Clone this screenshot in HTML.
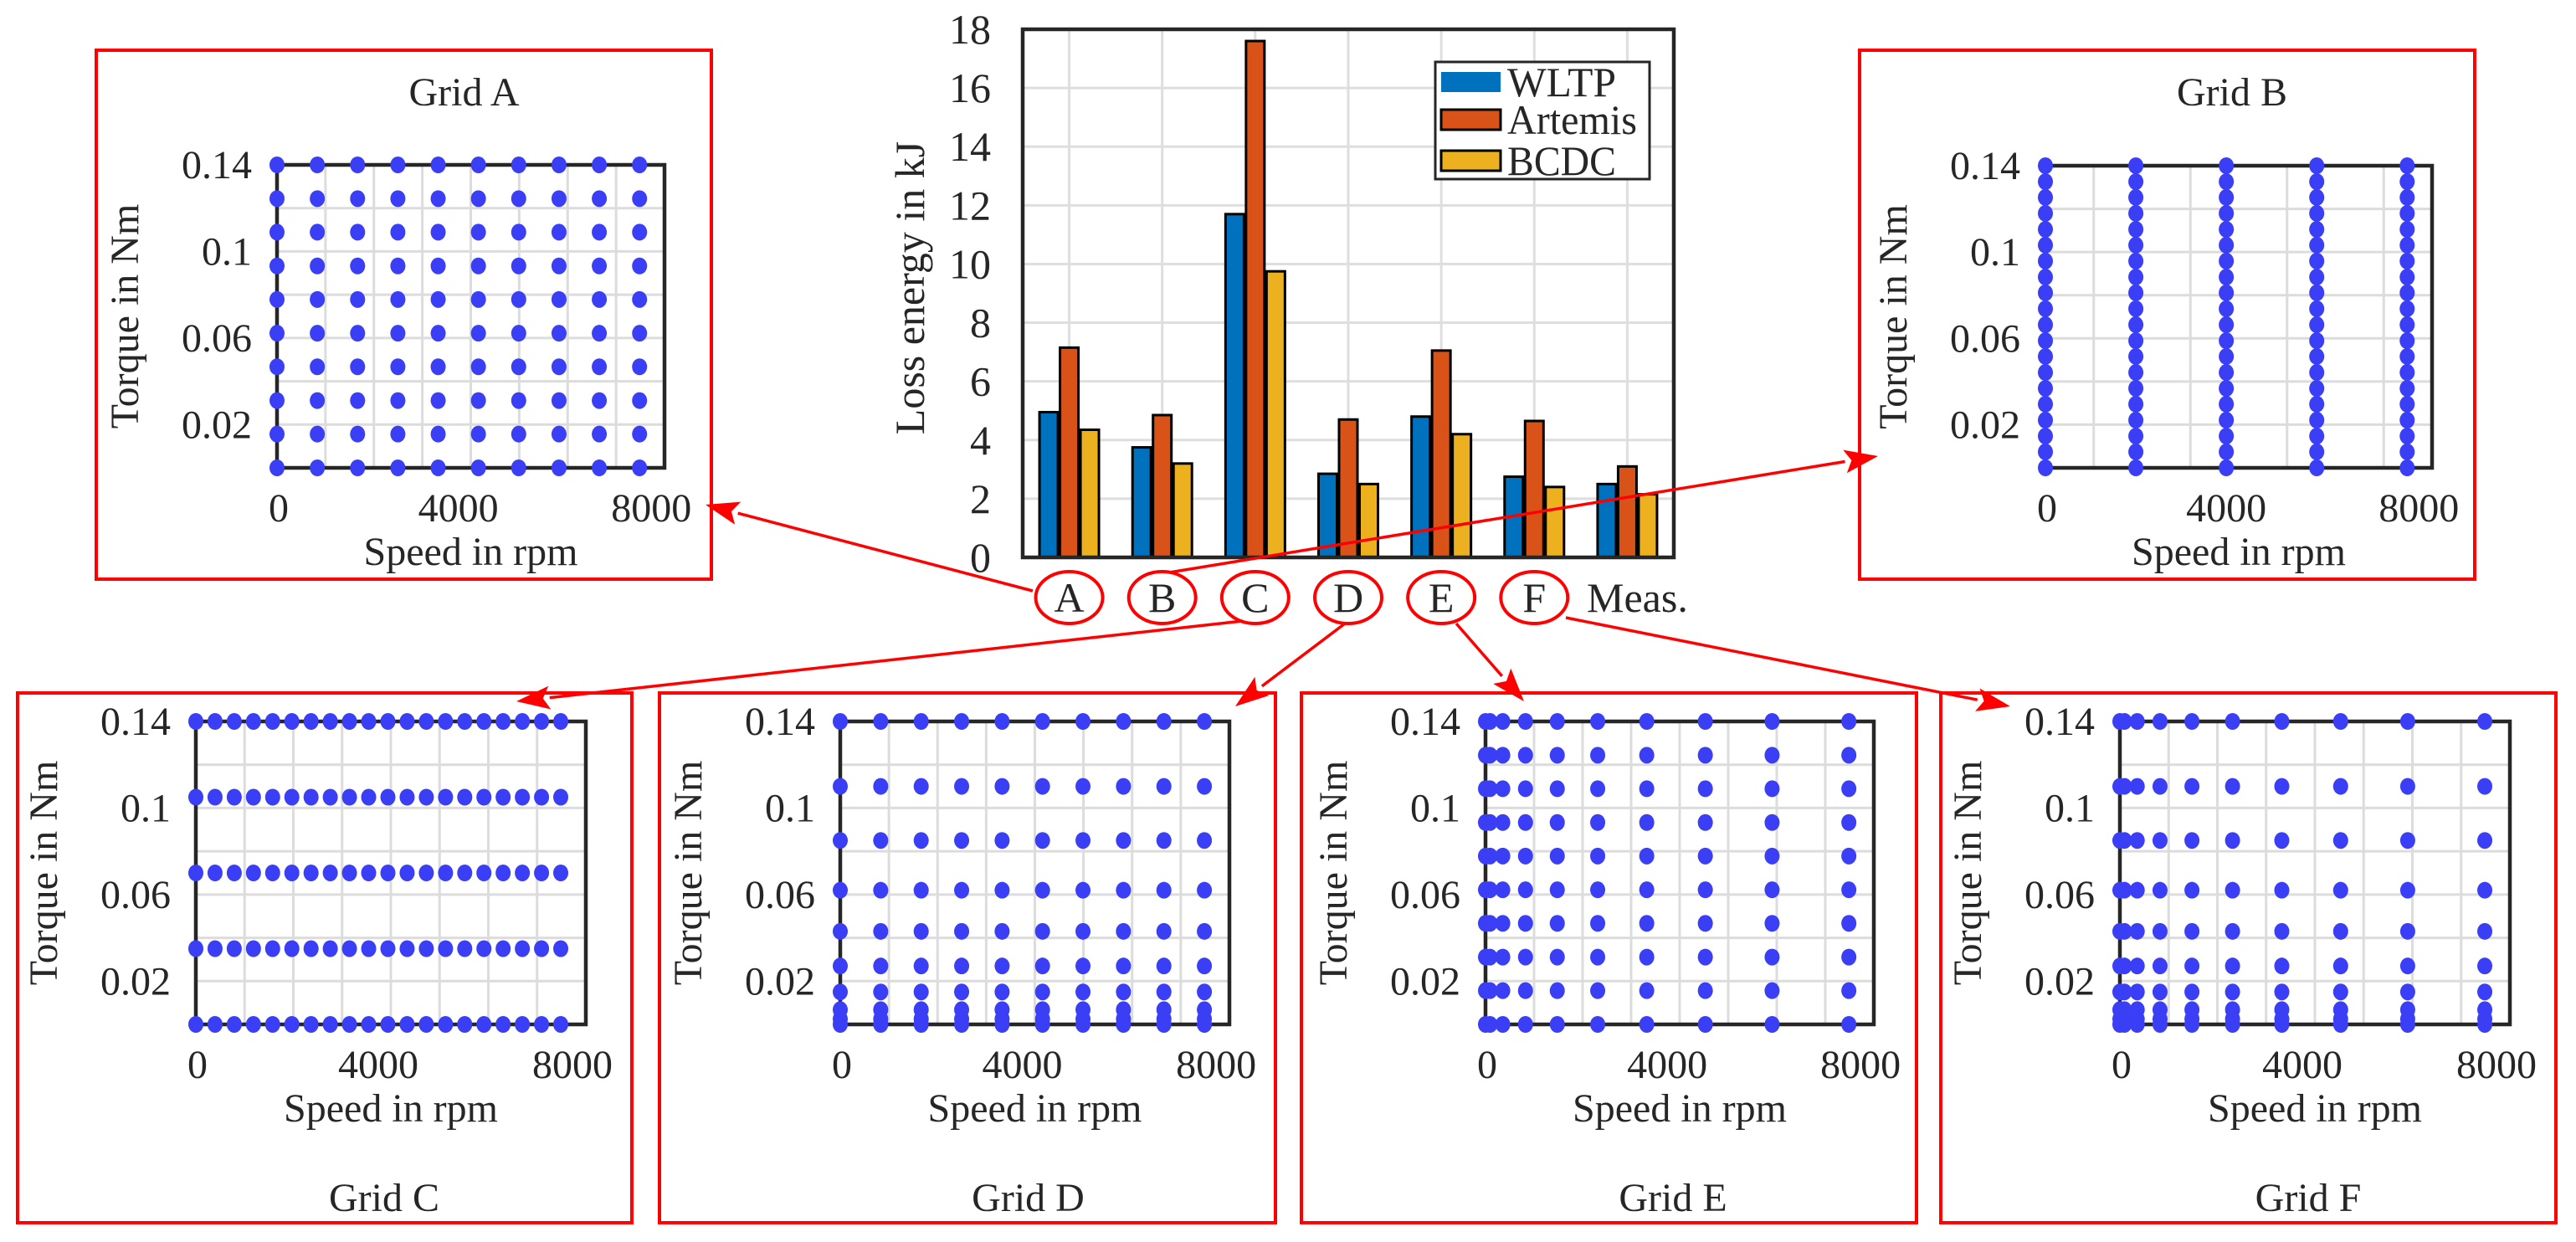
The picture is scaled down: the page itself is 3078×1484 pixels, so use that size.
<!DOCTYPE html>
<html><head><meta charset="utf-8"><style>
html,body{margin:0;padding:0;background:#fff;}
svg{display:block;}
text{font-family:"Liberation Serif","Times New Roman",serif;fill:#262626;}
</style></head><body>
<svg id="fig" width="3078" height="1484" viewBox="0 0 3078 1484" xmlns="http://www.w3.org/2000/svg"></svg>
<script>
// ---- Bar chart data ----
const barCategories = ["A","B","C","D","E","F","Meas."];
const seriesNames = ["WLTP","Artemis","BCDC"];
const wltpValues = [4.95,3.75,11.7,2.85,4.8,2.75,2.5];
const artemisValues = [7.15,4.85,17.6,4.7,7.05,4.65,3.1];
const bcdcValues = [4.35,3.2,9.75,2.5,4.2,2.4,2.15];
const barYTicks = [0,2,4,6,8,10,12,14,16,18];

// ---- Operating grid data ----
const gridASpeed = [0,889,1778,2667,3556,4444,5333,6222,7111,8000];
const gridATorque = [0,0.0156,0.0311,0.0467,0.0622,0.0778,0.0933,0.1089,0.1244,0.14];
const gridBSpeed = [0,2000,4000,6000,8000];
const gridBTorque = [0,0.0074,0.0147,0.0221,0.0295,0.0368,0.0442,0.0516,0.0589,0.0663,0.0737,0.0811,0.0884,0.0958,0.1032,0.1105,0.1179,0.1253,0.1326,0.14];
const gridCSpeed = [0,421,842,1263,1684,2105,2526,2947,3368,3789,4211,4632,5053,5474,5895,6316,6737,7158,7579,8000];
const gridCTorque = [0,0.035,0.07,0.105,0.14];
const gridDSpeed = [0,889,1778,2667,3556,4444,5333,6222,7111,8000];
const gridDTorque = [0,0.0025,0.0068,0.015,0.027,0.043,0.062,0.085,0.11,0.14];
const gridESpeed = [0,100,380,880,1580,2470,3550,4840,6310,8000];
const gridETorque = [0,0.0156,0.0311,0.0467,0.0622,0.0778,0.0933,0.1089,0.1244,0.14];
const gridFSpeed = [0,100,380,880,1580,2470,3550,4840,6310,8000];
const gridFTorque = [0,0.0025,0.0068,0.015,0.027,0.043,0.062,0.085,0.11,0.14];
const gridXTickLabels = [0,4000,8000];
const gridYTickLabels = ["0.02","0.06","0.1","0.14"];
const gridYTickValues = [0.02,0.06,0.1,0.14];

const NS="http://www.w3.org/2000/svg";
const svg=document.getElementById('fig');
const FF='"Liberation Serif","Times New Roman",serif';
function mk(tag,attrs,parent){const e=document.createElementNS(NS,tag);for(const k in attrs)e.setAttribute(k,attrs[k]);(parent||svg).appendChild(e);return e;}
function txt(s,attrs,parent){attrs['font-family']=FF;const e=mk('text',attrs,parent);e.textContent=s;return e;}

// ---------- Bar chart ----------
const bc=mk('g',{});


const BL=1222,BR=2000,BT=35,BB=666,BYMAX=18;
const by=v=>BB-(v/BYMAX)*(BB-BT);
const catW=(BR-BL)/barCategories.length;
const bx=i=>BL+(i+0.5)*catW;
for(const t of barYTicks){ if(t>0&&t<BYMAX){const l=mk('line',{x1:BL,x2:BR,y1:by(t),y2:by(t),stroke:'#dedede','stroke-width':3},bc);

}}
barCategories.forEach((c,i)=>{const l=mk('line',{x1:bx(i),x2:bx(i),y1:BT,y2:BB,stroke:'#dedede','stroke-width':3},bc);

});
const seriesVals=[wltpValues,artemisValues,bcdcValues];
const seriesCols=['#0072BD','#D95319','#EDB120'];
const offs=[-24.5,0,24.5];
seriesVals.forEach((vals,s)=>{vals.forEach((v,i)=>{
 const r=mk('rect',{x:bx(i)+offs[s]-11,y:by(v),width:22,height:BB-by(v),fill:seriesCols[s],stroke:'#000','stroke-width':3},bc);
 
 
});});
const bbox=mk('rect',{x:BL,y:BT,width:BR-BL,height:BB-BT,fill:'none',stroke:'#262626','stroke-width':4.5},bc);


for(const t of barYTicks){const tl=txt(String(t),{x:1184,y:by(t)+17,'font-size':50,'text-anchor':'end'},bc);

}
const yl=txt('Loss energy in kJ',{x:0,y:0,'font-size':50,'text-anchor':'middle',transform:'translate(1104,344) rotate(-90)'},bc);


const lg=mk('g',{},bc);


mk('rect',{x:1715,y:74,width:256,height:140,fill:'#fff',stroke:'#262626','stroke-width':3},lg);
const legY=[98,143,192];
seriesNames.forEach((n,s)=>{
 const sw=mk('rect',{x:1722,y:legY[s]-12,width:71,height:24,fill:seriesCols[s],stroke:s?'#000':'none','stroke-width':3},lg);
 
 
 const lt=txt(n,{x:1801,y:legY[s]+17,'font-size':50,textLength:n==='Artemis'?155:(n==='WLTP'?130:130),lengthAdjust:'spacingAndGlyphs'},lg);
 
 
});
barCategories.forEach((c,i)=>{
 if(c!=='Meas.'){const e=mk('ellipse',{cx:bx(i),cy:714,rx:40,ry:31,fill:'none',stroke:'#f00','stroke-width':4},bc);
 
 }
 const t=txt(c,{x:bx(i)+(c==='Meas.'?12:0),y:731,'font-size':50,'text-anchor':'middle'},bc);
 
 
});

// ---------- Grid panels ----------
const XMAX=8550,YMAX=0.14;
const panels=[
 {id:'a',title:'Grid A',sp:gridASpeed,tq:gridATorque,box:[115,60,850,692],ax:[331,197,794,559],titleTop:true,gx:[1,2,3,4,5,6,7]},
 {id:'b',title:'Grid B',sp:gridBSpeed,tq:gridBTorque,box:[2222,60,2957,692],ax:[2444,198,2906,559],titleTop:true,gx:[1,3,5,7]},
 {id:'c',title:'Grid C',sp:gridCSpeed,tq:gridCTorque,box:[21,828,755,1461],ax:[234,862,700,1224],titleTop:false,gx:[1,2,3,4,5,6,7]},
 {id:'d',title:'Grid D',sp:gridDSpeed,tq:gridDTorque,box:[788,828,1524,1461],ax:[1004,862,1469,1224],titleTop:false,gx:[1,2,3,4,5,6,7]},
 {id:'e',title:'Grid E',sp:gridESpeed,tq:gridETorque,box:[1555,828,2290,1461],ax:[1775,862,2239,1224],titleTop:false,gx:[1,2,3,4,5,6,7]},
 {id:'f',title:'Grid F',sp:gridFSpeed,tq:gridFTorque,box:[2319,828,3054,1461],ax:[2533,862,2999,1224],titleTop:false,gx:[1,2,3,4,5,6,7]},
];
panels.forEach(p=>{
 const g=mk('g',{});
 
 
 const [L,T,R,B]=p.ax;
 const xs=v=>L+(v/XMAX)*(R-L);
 const ys=v=>B-(v/YMAX)*(B-T);
 const fr=mk('rect',{x:p.box[0],y:p.box[1],width:p.box[2]-p.box[0],height:p.box[3]-p.box[1],fill:'none',stroke:'#f00','stroke-width':4},g);
 
 
 p.gx.forEach(k=>{const x=L+k*(R-L)/8;const l=mk('line',{x1:x,x2:x,y1:T,y2:B,stroke:'#dcdcdc','stroke-width':3},g);
 
 });
 for(let k=1;k<7;k++){const y=B-k*(B-T)/7;const l=mk('line',{x1:L,x2:R,y1:y,y2:y,stroke:'#dcdcdc','stroke-width':3},g);
 
 }
 const ab=mk('rect',{x:L,y:T,width:R-L,height:B-T,fill:'none',stroke:'#262626','stroke-width':4.5},g);
 
 
 p.sp.forEach(s=>{p.tq.forEach(t=>{
  const c=mk('ellipse',{cx:xs(s),cy:ys(t),rx:9,ry:10,fill:'#3a3ff6'},g);
  
  
 });});
 gridYTickValues.forEach((v,i)=>{const t=txt(gridYTickLabels[i],{x:L-30,y:ys(v)+16,'font-size':48,'text-anchor':'end'},g);
 
 });
 gridXTickLabels.forEach((v,i)=>{const t=txt(String(v),{x:xs(v)+(i===2?14:(i===0?2:0)),y:B+64,'font-size':48,'text-anchor':'middle'},g);
 
 });
 const xl=txt('Speed in rpm',{x:(L+R)/2,y:B+116,'font-size':48,'text-anchor':'middle'},g);
 
 
 const yt=txt('Torque in Nm',{x:0,y:0,'font-size':48,'text-anchor':'middle',transform:'translate('+(L-166)+','+((T+B)/2)+') rotate(-90)'},g);
 
 
 const tt=txt(p.title,{x:(L+R)/2-8,y:p.titleTop?126:1447,'font-size':48,'text-anchor':'middle'},g);
 
 
});

// ---------- Arrows ----------
const arrows=[
 {id:'a',x1:1234,y1:706,x2:843,y2:603},
 {id:'b',x1:1397,y1:684,x2:2244,y2:545},
 {id:'c',x1:1485,y1:742,x2:617,y2:838},
 {id:'d',x1:1607,y1:745,x2:1476,y2:844},
 {id:'e',x1:1740,y1:745,x2:1821,y2:838},
 {id:'f',x1:1871,y1:738,x2:2402,y2:844},
];
arrows.forEach(a=>{
 const g=mk('g',{});
 
 
 const dx=a.x2-a.x1,dy=a.y2-a.y1,len=Math.hypot(dx,dy),ux=dx/len,uy=dy/len;
 const hl=40,hw=14;
 const bx2=a.x2-ux*hl,by2=a.y2-uy*hl;
 mk('line',{x1:a.x1,y1:a.y1,x2:bx2,y2:by2,stroke:'#f00','stroke-width':3.5},g);
 mk('polygon',{points:`${a.x2},${a.y2} ${bx2-uy*hw},${by2+ux*hw} ${bx2+ux*8},${by2+uy*8} ${bx2+uy*hw},${by2-ux*hw}`,fill:'#f00'},g);
});
</script>
</body></html>
